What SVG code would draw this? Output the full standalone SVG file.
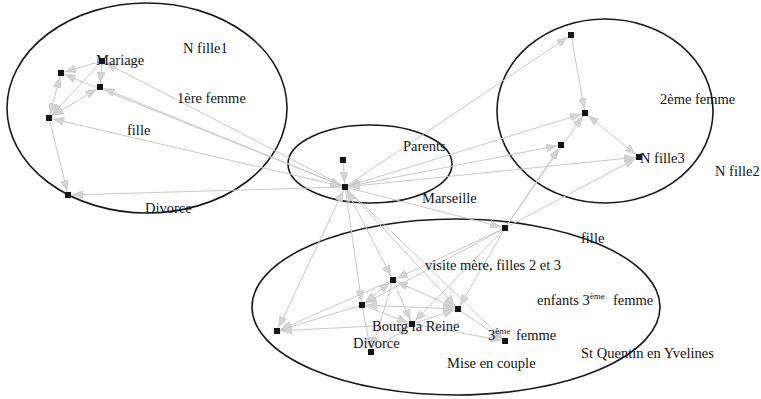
<svg xmlns="http://www.w3.org/2000/svg" width="761" height="399" viewBox="0 0 761 399">
<style>
.bg{fill:#ffffff}
.cl{fill:none;stroke:#1a1a1a;stroke-width:1.6}
.e{stroke:#c8c8c8;stroke-width:1;fill:none;marker-end:url(#ah)}
.b{marker-start:url(#ah)}
.ah{fill:#d4d4d4;stroke:#c0c0c0;stroke-width:0.6}
.n{fill:#141414}
.t{font-family:"Liberation Serif","Times New Roman",serif;font-size:14.5px;fill:#141414}
.s{font-size:9px}
</style>
<defs>
<marker id="ah" markerUnits="userSpaceOnUse" viewBox="0 0 10 8" markerWidth="10" markerHeight="8" refX="15" refY="4" orient="auto-start-reverse">
<path class="ah" d="M0,0 L10,4 L0,8 z"/>
</marker>
</defs>
<rect class="bg" x="0" y="0" width="761" height="399"/>
<g id="clusters">
<ellipse id="cluster-first-wife" class="cl" cx="147" cy="108" rx="140" ry="105"/>
<ellipse id="cluster-parents" class="cl" cx="370" cy="164" rx="82" ry="39"/>
<ellipse id="cluster-second-wife" class="cl" cx="605" cy="111" rx="108" ry="92"/>
<ellipse id="cluster-third-wife" class="cl" cx="456" cy="307" rx="204" ry="88"/>
</g>
<g id="connectors">
<line class="e" x1="102" y1="61" x2="61" y2="73"/>
<line class="e" x1="102" y1="61" x2="49" y2="118"/>
<line class="e" x1="102" y1="61" x2="100" y2="87"/>
<line class="e b" x1="100" y1="87" x2="49" y2="118"/>
<line class="e b" x1="49" y1="118" x2="61" y2="73"/>
<line class="e" x1="49" y1="118" x2="68" y2="195"/>
<line class="e" x1="345" y1="187" x2="102" y2="61"/>
<line class="e b" x1="345" y1="187" x2="61" y2="73"/>
<line class="e" x1="345" y1="187" x2="100" y2="87"/>
<line class="e b" x1="345" y1="187" x2="49" y2="118"/>
<line class="e" x1="345" y1="187" x2="68" y2="195"/>
<line class="e" x1="343" y1="160" x2="345" y2="187"/>
<line class="e" x1="345" y1="187" x2="571" y2="35"/>
<line class="e b" x1="345" y1="187" x2="585" y2="113"/>
<line class="e b" x1="345" y1="187" x2="561" y2="145"/>
<line class="e b" x1="345" y1="187" x2="639" y2="157"/>
<line class="e" x1="571" y1="35" x2="585" y2="113"/>
<line class="e b" x1="585" y1="113" x2="639" y2="157"/>
<line class="e" x1="505" y1="228" x2="561" y2="145"/>
<line class="e" x1="505" y1="228" x2="585" y2="113"/>
<line class="e" x1="505" y1="228" x2="639" y2="157"/>
<line class="e" x1="345" y1="187" x2="505" y2="228"/>
<line class="e b" x1="345" y1="187" x2="277" y2="331"/>
<line class="e" x1="345" y1="187" x2="362" y2="305"/>
<line class="e b" x1="345" y1="187" x2="393" y2="280"/>
<line class="e" x1="345" y1="187" x2="458" y2="309"/>
<line class="e" x1="345" y1="187" x2="505" y2="341"/>
<line class="e" x1="505" y1="228" x2="393" y2="280"/>
<line class="e" x1="505" y1="228" x2="362" y2="305"/>
<line class="e" x1="505" y1="228" x2="412" y2="324"/>
<line class="e" x1="505" y1="228" x2="458" y2="309"/>
<line class="e b" x1="393" y1="280" x2="362" y2="305"/>
<line class="e" x1="393" y1="280" x2="277" y2="331"/>
<line class="e" x1="362" y1="305" x2="277" y2="331"/>
<line class="e b" x1="393" y1="280" x2="458" y2="309"/>
<line class="e b" x1="362" y1="305" x2="458" y2="309"/>
<line class="e" x1="393" y1="280" x2="412" y2="324"/>
<line class="e" x1="393" y1="280" x2="371" y2="352"/>
<line class="e" x1="362" y1="305" x2="371" y2="352"/>
<line class="e" x1="412" y1="324" x2="277" y2="331"/>
<line class="e" x1="412" y1="324" x2="458" y2="309"/>
<line class="e" x1="362" y1="305" x2="412" y2="324"/>
<line class="e" x1="412" y1="324" x2="505" y2="341"/>
<line class="e" x1="458" y1="309" x2="505" y2="341"/>
<line class="e" x1="371" y1="352" x2="412" y2="324"/>
</g>
<g id="node-mariage"><rect class="n" x="99" y="58" width="6" height="6"/></g>
<g id="node-a"><rect class="n" x="58" y="70" width="6" height="6"/></g>
<g id="node-b"><rect class="n" x="97" y="84" width="6" height="6"/></g>
<g id="node-c"><rect class="n" x="46" y="115" width="6" height="6"/></g>
<g id="node-d"><rect class="n" x="65" y="192" width="6" height="6"/></g>
<g id="node-p1"><rect class="n" x="340" y="157" width="6" height="6"/></g>
<g id="node-p2"><rect class="n" x="342" y="184" width="6" height="6"/></g>
<g id="node-r1"><rect class="n" x="568" y="32" width="6" height="6"/></g>
<g id="node-r2"><rect class="n" x="582" y="110" width="6" height="6"/></g>
<g id="node-r3"><rect class="n" x="558" y="142" width="6" height="6"/></g>
<g id="node-r4"><rect class="n" x="636" y="154" width="6" height="6"/></g>
<g id="node-e1"><rect class="n" x="502" y="225" width="6" height="6"/></g>
<g id="node-e2"><rect class="n" x="390" y="277" width="6" height="6"/></g>
<g id="node-e3"><rect class="n" x="359" y="302" width="6" height="6"/></g>
<g id="node-e4"><rect class="n" x="455" y="306" width="6" height="6"/></g>
<g id="node-e5"><rect class="n" x="409" y="321" width="6" height="6"/></g>
<g id="node-e6"><rect class="n" x="274" y="328" width="6" height="6"/></g>
<g id="node-e7"><rect class="n" x="368" y="349" width="6" height="6"/></g>
<g id="node-e8"><rect class="n" x="502" y="338" width="6" height="6"/></g>
<g id="labels">
<text class="t" x="96" y="65">Mariage</text>
<text class="t" x="183" y="53">N fille1</text>
<text class="t" x="177" y="103">1ère femme</text>
<text class="t" x="127" y="135">fille</text>
<text class="t" x="145" y="213">Divorce</text>
<text class="t" x="403" y="151">Parents</text>
<text class="t" x="422" y="203">Marseille</text>
<text class="t" x="660" y="104">2ème femme</text>
<text class="t" x="640" y="163">N fille3</text>
<text class="t" x="715" y="176">N fille2</text>
<text class="t" x="581" y="243">fille</text>
<text class="t" x="425" y="270">visite mère, filles 2 et 3</text>
<text class="t" x="537" y="305">enfants 3<tspan class="s" dy="-6">ème</tspan><tspan x="613" dy="6">femme</tspan></text>
<text class="t" x="372" y="331">Bourg la Reine</text>
<text class="t" x="353" y="348">Divorce</text>
<text class="t" x="488" y="340">3<tspan class="s" dy="-6">ème</tspan><tspan x="516" dy="6">femme</tspan></text>
<text class="t" x="447" y="368">Mise en couple</text>
<text class="t" x="581" y="358">St Quentin en Yvelines</text>
</g>
</svg>
